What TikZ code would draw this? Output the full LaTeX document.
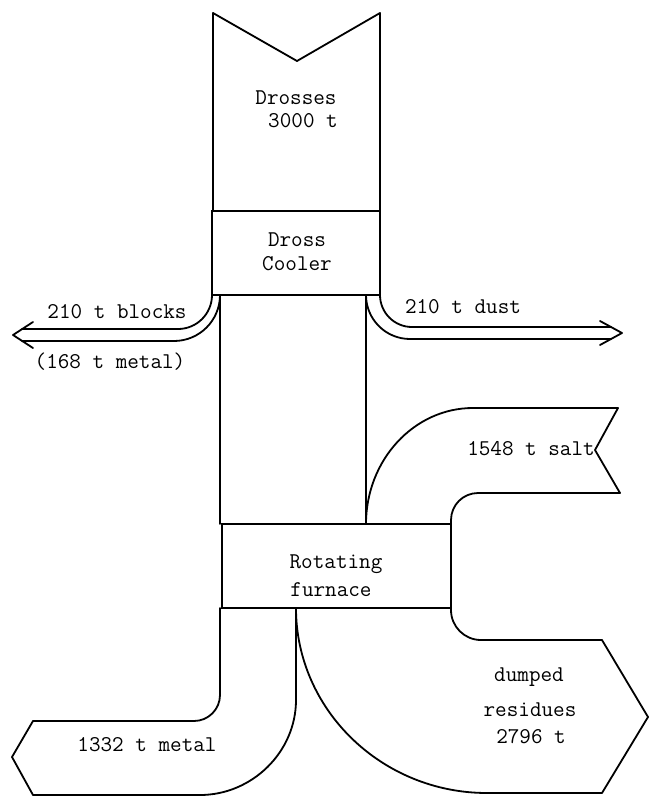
\documentclass[tikz,border=0pt]{standalone}
\usepackage{fontspec}
\tikzset{
  flow/.style={line width=1.8pt, line join=round, line cap=round},
  boxnode/.style={draw, line width=1.8pt, inner sep=0pt, outer sep=0pt},
  lbl/.style={font=\fontsize{22.5}{24}\selectfont\ttfamily, inner sep=0pt, align=center}
}
\begin{document}
\begin{tikzpicture}[x=1pt,y=-1pt]
\useasboundingbox (0,0) rectangle (650,798);

% input stream: drosses
\draw[flow] (213,211) -- (213,13) -- (297,61) -- (380,13) -- (380,211);
\node[lbl] (drosses) at (296,98) {Drosses};
\node[lbl] (drossamt) at (303,121) {3000 t};

% dross cooler
\node[boxnode, minimum width=168pt, minimum height=84pt] (cooler) at (296,253) {};
\node[lbl] (coolerlbl) at (297,252) {Dross\\Cooler};

% rotating furnace
\node[boxnode, minimum width=229pt, minimum height=84pt] (furnace) at (336.5,566) {};
\node[lbl] (furn1) at (336,564) {Rotating};
\node[lbl] (furn2) at (331,590) {furnace};

% stream from cooler to furnace
\coordinate (cl) at (220,295);
\coordinate (cr) at (366,295);
\coordinate (fl) at (220,524);
\coordinate (fr) at (366,524);
\draw[flow] (cl) -- (fl);
\draw[flow] (cr) -- (fr);

% blocks (left arrow)
\draw[flow, rounded corners=34pt] (212,295) -- (212,329) -- (22,329);
\draw[flow, rounded corners=46pt] (cl) -- (220,341) -- (22,341);
\draw[flow] (33,322) -- (13,335) -- (33,348);
\node[lbl] (blocks) at (117,312) {210 t blocks};
\node[lbl] (blocksmetal) at (110,362) {(168 t metal)};

% dust (right arrow)
\draw[flow, rounded corners=32pt] (380,295) -- (380,327) -- (611,327);
\draw[flow, rounded corners=44pt] (cr) -- (366,339) -- (611,339);
\draw[flow] (600,321) -- (622,333) -- (600,345);
\node[lbl] (dust) at (463,307) {210 t dust};

% salt
\draw[flow] (fr) .. controls (366,460) and (414,408) .. (473,408) -- (618,408) -- (595,450) -- (620,493);
\draw[flow, rounded corners=27pt] (620,493) -- (451,493) -- (451,524);
\node[lbl] (salt) at (531,449) {1548 t salt};

% dumped residues
\draw[flow, rounded corners=30pt] (451,608) -- (451,640) -- (602,640);
\draw[flow] (602,640) -- (648,717) -- (602,793) -- (487,793) .. controls (382,793) and (296,710) .. (296,608);
\node[lbl] (dumped) at (529,677) {dumped};
\node[lbl] (residues) at (530,710) {residues};
\node[lbl] (resamt) at (531,737) {2796 t};

% metal
\draw[flow] (296,608) -- (296,700) .. controls (296,752) and (252,795) .. (200,795) -- (33,795) -- (12,757) -- (33,721);
\draw[flow, rounded corners=26pt] (33,721) -- (220,721) -- (220,608);
\node[lbl] (metal) at (147,745) {1332 t metal};
\end{tikzpicture}
\end{document}
